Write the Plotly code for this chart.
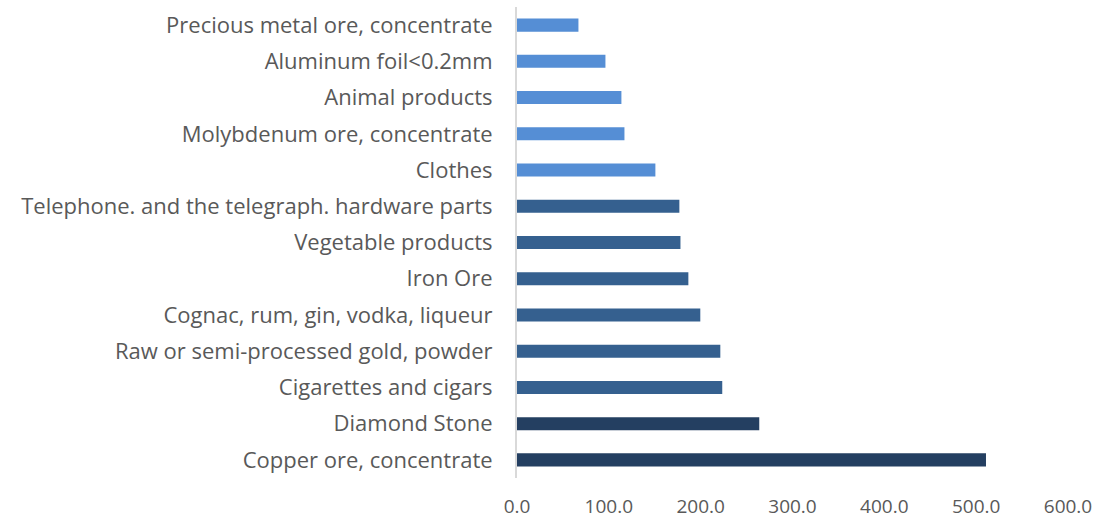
import plotly.graph_objects as go

categories = [
    "Copper ore, concentrate",
    "Diamond Stone",
    "Cigarettes and cigars",
    "Raw or semi-processed gold, powder",
    "Cognac, rum, gin, vodka, liqueur",
    "Iron Ore",
    "Vegetable products",
    "Telephone. and the telegraph. hardware parts",
    "Clothes",
    "Molybdenum ore, concentrate",
    "Animal products",
    "Aluminum foil<0.2mm",
    "Precious metal ore, concentrate",
]
values = [510.7, 263.8, 223.5, 221.4, 199.6, 186.6, 178.0, 176.8, 150.7, 117.0, 113.7, 96.3, 66.9]
colors = ["#243F61"] * 2 + ["#35608F"] * 6 + ["#558ED5"] * 5
tick_vals = [0, 100, 200, 300, 400, 500, 600]
tick_text = ["0.0", "100.0", "200.0", "300.0", "400.0", "500.0", "600.0"]

fig = go.Figure(go.Bar(
    x=values, y=categories, orientation="h",
    marker=dict(color=colors, line=dict(width=0)),
))
fig.update_layout(
    width=1098, height=518,
    margin=dict(l=517, r=30, t=7, b=40, autoexpand=False),
    plot_bgcolor="white", paper_bgcolor="white",
    bargap=0.64,
    showlegend=False,
    font=dict(family="Open Sans", color="#595959"),
)
fig.update_xaxes(
    range=[0, 600], tickvals=tick_vals, ticktext=tick_text,
    showgrid=False, zeroline=False, showline=False, automargin=False,
    tickfont=dict(size=19, color="#595959"), ticks="", ticklabelstandoff=15,
)
fig.update_yaxes(
    categoryorder="array", categoryarray=categories,
    range=[-0.5, 12.5], automargin=False,
    showgrid=False, zeroline=False,
    showline=True, linecolor="#D9D9D9", linewidth=2,
    tickfont=dict(size=22, color="#595959"), ticks="", ticklabelstandoff=18,
)
fig.write_html("out.html")
